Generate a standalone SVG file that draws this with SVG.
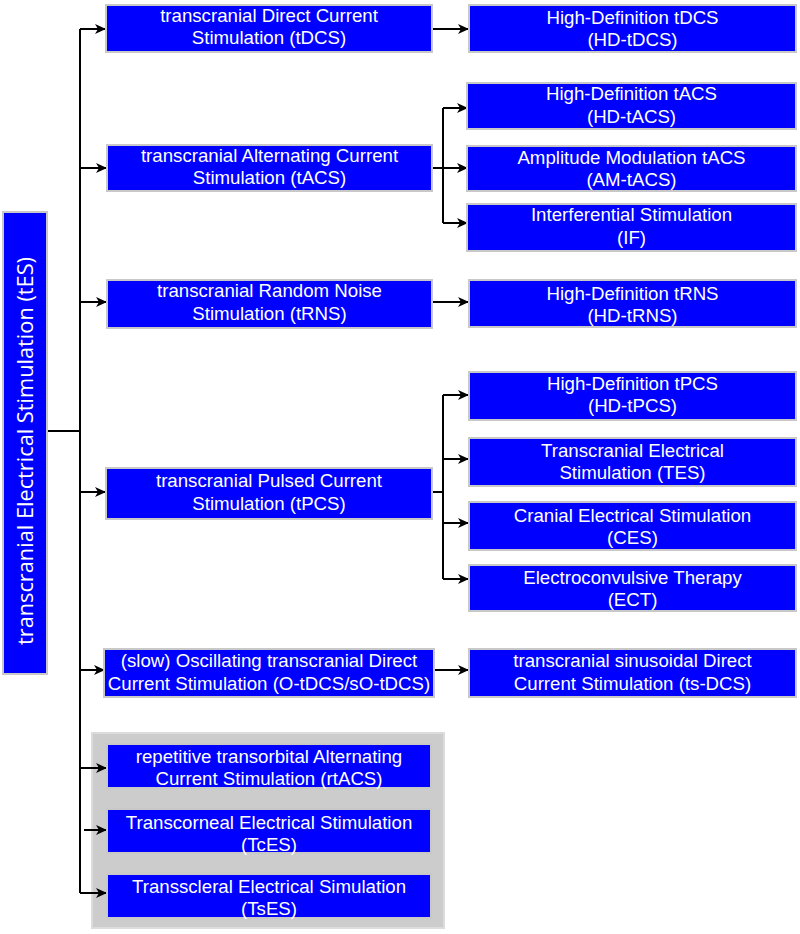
<svg xmlns="http://www.w3.org/2000/svg" width="800" height="934" viewBox="0 0 800 934">
<style>
.box{fill:#0000ff;stroke:#c8c8c8;stroke-width:2}
.t{fill:#ffffff;font-family:"Liberation Sans",Arial,sans-serif;font-size:18.67px;text-anchor:middle}
.root{fill:#ffffff;font-family:"Open Sans","Noto Sans",sans-serif;font-size:22px;text-anchor:middle}
.c{fill:none;stroke:#000000;stroke-width:2}
.panel{fill:#cccccc;stroke:#dcdcdc;stroke-width:2}
</style>
<defs>
<marker id="ah" markerUnits="userSpaceOnUse" markerWidth="12" markerHeight="10" refX="10" refY="5" orient="auto">
<path d="M0,0 L11,5 L0,10 L3,5 z" fill="#000000"/>
</marker>
</defs>
<rect class="panel" x="92" y="733" width="352" height="195"/>
<g id="connectors">
<path class="c" d="M47,431 H80"/>
<path class="c" d="M80,29 V893"/>
<path class="c" d="M80,29 H105" marker-end="url(#ah)"/>
<path class="c" d="M80,168 H106" marker-end="url(#ah)"/>
<path class="c" d="M80,302 H106" marker-end="url(#ah)"/>
<path class="c" d="M80,492 H105" marker-end="url(#ah)"/>
<path class="c" d="M80,670 H104" marker-end="url(#ah)"/>
<path class="c" d="M80,768 H106" marker-end="url(#ah)"/>
<path class="c" d="M84,830 H106" marker-end="url(#ah)"/>
<path class="c" d="M80,893 H106" marker-end="url(#ah)"/>
<path class="c" d="M432,29 H468" marker-end="url(#ah)"/>
<path class="c" d="M432,168 H443"/>
<path class="c" d="M443,108 V223"/>
<path class="c" d="M443,108 H467" marker-end="url(#ah)"/>
<path class="c" d="M443,168 H467" marker-end="url(#ah)"/>
<path class="c" d="M443,223 H467" marker-end="url(#ah)"/>
<path class="c" d="M432,302 H468" marker-end="url(#ah)"/>
<path class="c" d="M432,492 H443"/>
<path class="c" d="M443,395 V579"/>
<path class="c" d="M443,395 H468" marker-end="url(#ah)"/>
<path class="c" d="M443,459 H468" marker-end="url(#ah)"/>
<path class="c" d="M443,523 H468" marker-end="url(#ah)"/>
<path class="c" d="M443,579 H468" marker-end="url(#ah)"/>
<path class="c" d="M434,670 H468" marker-end="url(#ah)"/>
</g>
<g id="root">
<rect class="box" x="3" y="212" width="44" height="462"/>
<text class="root" transform="translate(33,451) rotate(-90)" textLength="388" lengthAdjust="spacingAndGlyphs">transcranial Electrical Stimulation (tES)</text>
</g>
<g id="tDCS">
<rect class="box" x="106" y="5" width="326" height="47"/>
<text class="t" x="269" y="22">transcranial Direct Current</text>
<text class="t" x="269" y="44">Stimulation (tDCS)</text>
</g>
<g id="tACS">
<rect class="box" x="107" y="145" width="325" height="46"/>
<text class="t" x="269.5" y="161.5">transcranial Alternating Current</text>
<text class="t" x="269.5" y="184">Stimulation (tACS)</text>
</g>
<g id="tRNS">
<rect class="box" x="107" y="280" width="325" height="48"/>
<text class="t" x="269.5" y="297">transcranial Random Noise</text>
<text class="t" x="269.5" y="319.5">Stimulation (tRNS)</text>
</g>
<g id="tPCS">
<rect class="box" x="106" y="468" width="326" height="51"/>
<text class="t" x="269" y="487">transcranial Pulsed Current</text>
<text class="t" x="269" y="510">Stimulation (tPCS)</text>
</g>
<g id="OtDCS">
<rect class="box" x="104" y="649" width="330" height="48"/>
<text class="t" x="269" y="667">(slow) Oscillating transcranial Direct</text>
<text class="t" x="269" y="690">Current Stimulation (O-tDCS/sO-tDCS)</text>
</g>
<g id="rtACS">
<rect class="box" x="107" y="744" width="324" height="44"/>
<text class="t" x="269" y="763">repetitive transorbital Alternating</text>
<text class="t" x="269" y="785">Current Stimulation (rtACS)</text>
</g>
<g id="TcES">
<rect class="box" x="107" y="809" width="324" height="44"/>
<text class="t" x="269" y="829">Transcorneal Electrical Stimulation</text>
<text class="t" x="269" y="851">(TcES)</text>
</g>
<g id="TsES">
<rect class="box" x="107" y="874" width="324" height="44"/>
<text class="t" x="269" y="893">Transscleral Electrical Simulation</text>
<text class="t" x="269" y="915">(TsES)</text>
</g>
<g id="HDtDCS">
<rect class="box" x="469" y="5" width="327" height="47"/>
<text class="t" x="632.5" y="24">High-Definition tDCS</text>
<text class="t" x="632.5" y="46">(HD-tDCS)</text>
</g>
<g id="HDtACS">
<rect class="box" x="467" y="83" width="329" height="46"/>
<text class="t" x="631.5" y="100">High-Definition tACS</text>
<text class="t" x="631.5" y="122.5">(HD-tACS)</text>
</g>
<g id="AMtACS">
<rect class="box" x="467" y="146" width="329" height="45"/>
<text class="t" x="631.5" y="164">Amplitude Modulation tACS</text>
<text class="t" x="631.5" y="186">(AM-tACS)</text>
</g>
<g id="IF">
<rect class="box" x="467" y="204" width="329" height="47"/>
<text class="t" x="631.5" y="221">Interferential Stimulation</text>
<text class="t" x="631.5" y="244">(IF)</text>
</g>
<g id="HDtRNS">
<rect class="box" x="469" y="280" width="327" height="47"/>
<text class="t" x="632.5" y="300">High-Definition tRNS</text>
<text class="t" x="632.5" y="322">(HD-tRNS)</text>
</g>
<g id="HDtPCS">
<rect class="box" x="469" y="372" width="327" height="48"/>
<text class="t" x="632.5" y="390">High-Definition tPCS</text>
<text class="t" x="632.5" y="412">(HD-tPCS)</text>
</g>
<g id="TES">
<rect class="box" x="469" y="438" width="327" height="48"/>
<text class="t" x="632.5" y="457">Transcranial Electrical</text>
<text class="t" x="632.5" y="479">Stimulation (TES)</text>
</g>
<g id="CES">
<rect class="box" x="469" y="502" width="327" height="48"/>
<text class="t" x="632.5" y="522">Cranial Electrical Stimulation</text>
<text class="t" x="632.5" y="544">(CES)</text>
</g>
<g id="ECT">
<rect class="box" x="469" y="565" width="327" height="46"/>
<text class="t" x="632.5" y="584">Electroconvulsive Therapy</text>
<text class="t" x="632.5" y="606">(ECT)</text>
</g>
<g id="tsDCS">
<rect class="box" x="469" y="649" width="327" height="48"/>
<text class="t" x="632.5" y="667">transcranial sinusoidal Direct</text>
<text class="t" x="632.5" y="690">Current Stimulation (ts-DCS)</text>
</g>
</svg>
